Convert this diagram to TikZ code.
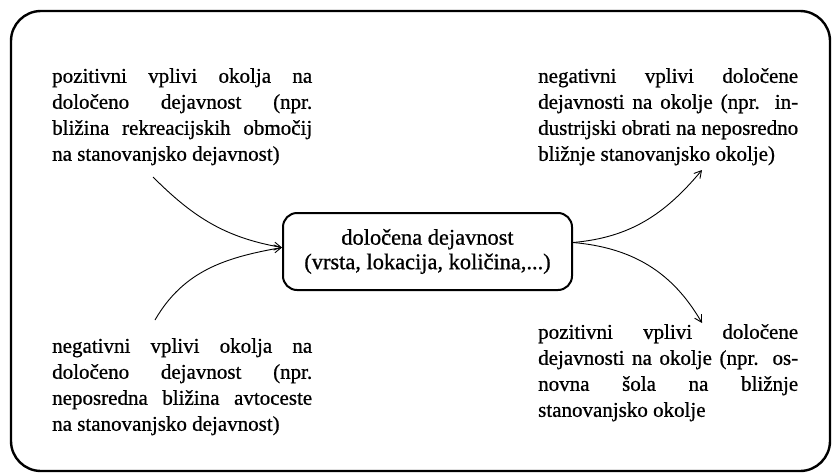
\documentclass[tikz,border=0pt]{standalone}
\usepackage{fontspec}
\setmainfont{Liberation Serif}[FakeBold=0.8]
\newfontfamily\scanfont{Liberation Serif}[FakeBold=0.8]
\usetikzlibrary{arrows.meta}

\begin{document}
\begin{tikzpicture}[x=1pt,y=1pt]
    \useasboundingbox (0,0) rectangle (833,-474);

        % outer frame
        \draw[line width=2.4pt, rounded corners=30pt] (11,-11) rectangle (830,-471);

        % the activity in the middle
        \node[draw, line width=2pt, rounded corners=14pt, minimum width=289pt, minimum height=77pt,
              align=center, font=\scanfont\fontsize{22.4}{24.5}\selectfont] (act) at (427.5,-251.5)
              {določena dejavnost\\(vrsta, lokacija, količina,...)};

        % Add or remove text blocks here, use the tuple for location
        \begin{scope}[every node/.style={anchor=north west, inner sep=0pt, text width=260pt,
                      align=justify, font=\scanfont\fontsize{21}{26}\selectfont}]
        \node (posIn) at (52,-68) {pozitivni vplivi okolja na\linebreak
              določeno dejavnost (npr.\linebreak
              bližina rekreacijskih območij\linebreak
              na stanovanjsko dejavnost)};
        \node (negOut) at (538,-68) {negativni vplivi določene\linebreak
              dejavnosti na okolje (npr. in-\linebreak
              dustrijski obrati na neposredno\linebreak
              bližnje stanovanjsko okolje)};
        \node (negIn) at (52,-338) {negativni vplivi okolja na\linebreak
              določeno dejavnost (npr.\linebreak
              neposredna bližina avtoceste\linebreak
              na stanovanjsko dejavnost)};
        \node (posOut) at (538,-324) {pozitivni vplivi določene\linebreak
              dejavnosti na okolje (npr. os-\linebreak
              novna šola na bližnje\linebreak
              stanovanjsko okolje};
        \end{scope}

        % free ends of the arrows
        \coordinate (posInFoot) at (153,-177);
        \coordinate (negInFoot) at (155,-320);
        \coordinate (negOutTip) at (702,-170);
        \coordinate (posOutTip) at (702,-323);

        % Remove or add new arrows here
        \begin{scope}[>={Straight Barb[length=7pt,width=8pt]},
                  every edge/.style={draw=black, line width=0.9pt}]
        \path [->] (posInFoot) edge[out=-45, in=170] ([yshift=4pt]act.west);
        \path [->] (negInFoot) edge[out=60, in=190] ([yshift=4pt]act.west);

        \path [->] ([yshift=9pt]act.east) edge[out=5, in=-130] (negOutTip);
        \path [->] ([yshift=9pt]act.east) edge[out=-5, in=120] (posOutTip);
        \end{scope}

\end{tikzpicture}
\end{document}
